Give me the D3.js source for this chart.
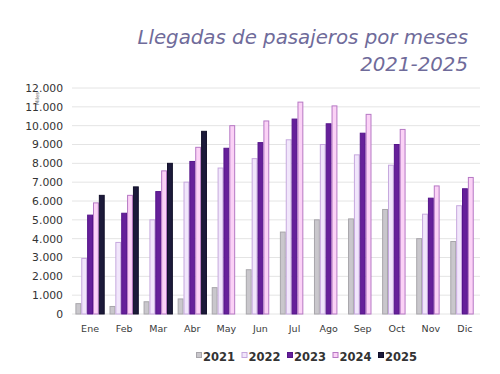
<!DOCTYPE html>
<html>
<head>
<meta charset="utf-8">
<script src="https://cdn.jsdelivr.net/npm/d3@7"></script>
<style>
  body { margin: 0; background: #fff; }
  svg { display: block; font-family: "DejaVu Sans", Verdana, sans-serif; }
</style>
</head>
<body>
<div id="chart"></div>
<script>
// data (miles de pasajeros)
var months = ["Ene", "Feb", "Mar", "Abr", "May", "Jun", "Jul", "Ago", "Sep", "Oct", "Nov", "Dic"];
var years = ["2021", "2022", "2023", "2024", "2025"];
var v2021 = [550, 400, 650, 800, 1400, 2350, 4350, 5000, 5050, 5550, 4000, 3850];
var v2022 = [2950, 3800, 5000, 7000, 7750, 8250, 9250, 9000, 8450, 7900, 5300, 5750];
var v2023 = [5250, 5350, 6500, 8100, 8800, 9100, 10350, 10100, 9600, 9000, 6150, 6650];
var v2024 = [5900, 6300, 7600, 8850, 10000, 10250, 11250, 11050, 10600, 9800, 6800, 7250];
var v2025 = [6300, 6750, 8000, 9700];
var yTicks = [0, 1000, 2000, 3000, 4000, 5000, 6000, 7000, 8000, 9000, 10000, 11000, 12000];

var series = [v2021, v2022, v2023, v2024, v2025];
var fills = ["#c9c7cc", "#f1e6fb", "#66209a", "#fbd2f6", "#1c1a3a"];
var strokes = ["#a8a6ab", "#c6a8de", "#55158a", "#b678c4", "#12102a"];

var width = 500, height = 374;

var svg = d3.select("#chart").append("svg")
  .attr("width", width)
  .attr("height", height);

// title
svg.append("text")
  .attr("x", 468).attr("y", 44)
  .attr("text-anchor", "end")
  .attr("font-style", "italic")
  .attr("font-size", "19.8px")
  .attr("fill", "#6f6b9a")
  .text("Llegadas de pasajeros por meses");
svg.append("text")
  .attr("x", 468).attr("y", 71)
  .attr("text-anchor", "end")
  .attr("font-style", "italic")
  .attr("font-size", "19.8px")
  .attr("fill", "#6f6b9a")
  .text("2021-2025");

var x0 = d3.scaleBand()
  .domain(months)
  .range([72, 483])
  .paddingInner(0.14)
  .paddingOuter(0.1);

var x1 = d3.scaleBand()
  .domain(years)
  .range([0, x0.bandwidth()]);

var y = d3.scaleLinear()
  .domain([0, 12000])
  .range([314, 88]);

// gridlines
svg.append("g")
  .selectAll("line")
  .data(yTicks)
  .enter()
  .append("line")
  .attr("x1", 72).attr("x2", 480)
  .attr("y1", d => y(d)).attr("y2", d => y(d))
  .attr("stroke", "#e4e4e4")
  .attr("stroke-width", 1);

// y axis labels
var fmt = d3.format(",");
var leftAxis = d3.axisLeft(y).tickValues(yTicks)
  .tickSize(0).tickPadding(0)
  .tickFormat(d => fmt(d).replace(/,/g, "."));
var gy = svg.append("g")
  .attr("transform", "translate(63,0)")
  .call(leftAxis);
gy.select(".domain").remove();
gy.selectAll("text")
  .attr("font-family", "DejaVu Sans, Verdana, sans-serif")
  .attr("font-size", "10.8px")
  .attr("fill", "#333");

svg.append("text")
  .attr("transform", "translate(39,105) rotate(-90)")
  .attr("font-size", "5px")
  .attr("fill", "#555")
  .text("Miles");

// bars
years.forEach(function(yr, i) {
  svg.append("g")
    .selectAll("rect")
    .data(series[i].map((v, j) => ({ m: months[j], v: v })))
    .enter()
    .append("rect")
    .attr("x", d => x0(d.m) + x1(yr) + 0.5)
    .attr("y", d => y(d.v))
    .attr("width", x1.bandwidth() - 1)
    .attr("height", d => y(0) - y(d.v))
    .attr("fill", fills[i])
    .attr("stroke", strokes[i])
    .attr("stroke-width", 1);
});

// x axis labels
var bottomAxis = d3.axisBottom(x0).tickSize(0).tickPadding(0);
var gx = svg.append("g")
  .attr("transform", "translate(0,325)")
  .call(bottomAxis);
gx.select(".domain").remove();
gx.selectAll("text")
  .attr("font-family", "DejaVu Sans, Verdana, sans-serif")
  .attr("font-size", "9.5px")
  .attr("fill", "#3a3a3a");

// legend
var legend = svg.append("g").attr("transform", "translate(196,356)");
years.forEach(function(yr, i) {
  var g = legend.append("g").attr("transform", `translate(${i * 45.5},0)`);
  g.append("rect")
    .attr("x", 0.5).attr("y", -3.5)
    .attr("width", 5).attr("height", 5)
    .attr("fill", fills[i])
    .attr("stroke", strokes[i]);
  g.append("text")
    .attr("x", 7).attr("y", 4.5)
    .attr("font-size", "11.5px")
    .attr("font-weight", "bold")
    .attr("fill", "#333")
    .text(yr);
});
</script>
</body>
</html>
